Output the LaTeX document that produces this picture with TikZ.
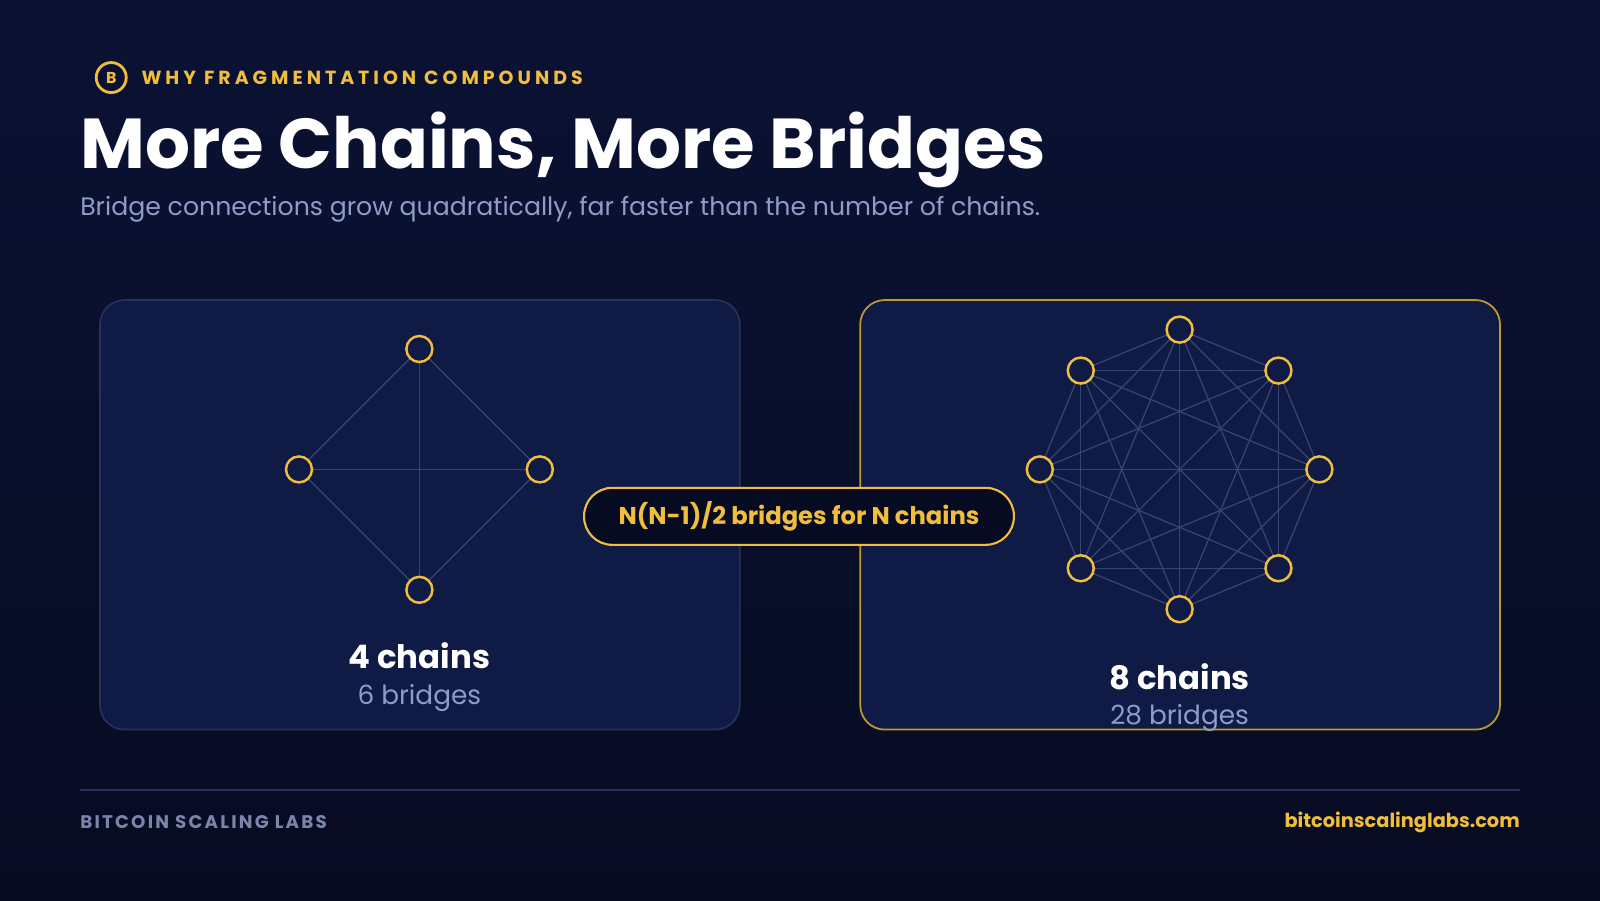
\documentclass[tikz,border=0pt]{standalone}
\usepackage{fontspec}
\setmainfont{Poppins}
\usetikzlibrary{positioning}
\definecolor{bgTop}{HTML}{0B1233}
\definecolor{bgBot}{HTML}{070B22}
\definecolor{panelFill}{HTML}{0F1A45}
\definecolor{panelEdge}{HTML}{27315C}
\definecolor{goldC}{HTML}{F0BE3C}
\definecolor{edgeC}{HTML}{3A4472}
\definecolor{softC}{HTML}{8F9CC8}
\begin{document}
\begin{tikzpicture}[x=0.010204cm,y=-0.010204cm,
    panel/.style={draw=panelEdge,fill=panelFill,rounded corners=7pt,line width=0.5pt},
    chain/.style={circle,draw=goldC,line width=0.7pt,fill=panelFill,minimum size=0.26cm,inner sep=0pt},
    bridge/.style={draw=edgeC,line width=0.35pt},
    bigLabel/.style={text=white,font=\fontsize{9.2}{11}\selectfont\bfseries},
    smallLabel/.style={text=softC,font=\fontsize{7.5}{9}\selectfont}]
  \shade[top color=bgTop,bottom color=bgBot] (0,0) rectangle (1568,882);
  \useasboundingbox (0,0) rectangle (1568,882);

  % header
  \node[circle,draw=goldC,line width=0.8pt,minimum size=0.3cm,inner sep=0pt,text=goldC,
        font=\fontsize{4.5}{5}\selectfont\bfseries] (logo) at (109,76) {B};
  \node[anchor=west,inner sep=0pt,text=goldC,font=\fontsize{5.4}{6}\selectfont\bfseries\addfontfeature{LetterSpace=21}]
        (kicker) at (138,76) {WHY FRAGMENTATION COMPOUNDS};
  \node[anchor=base west,inner sep=0pt,text=white,font=\fontsize{20.1}{24}\selectfont\bfseries]
        (title) at (78,165) {More Chains, More Bridges};
  \node[anchor=base west,inner sep=0pt,text=softC,font=\fontsize{7.17}{9}\selectfont]
        (subtitle) at (78,211) {Bridge connections grow quadratically, far faster than the number of chains.};

  % panels
  \draw[panel] (98,294) rectangle (725,715);
  \draw[panel,draw=goldC!80!black] (843,294) rectangle (1470,715);

  % four chains
  \foreach \i/\a in {1/90,2/180,3/270,4/0}
    \coordinate (p\i) at ({411+118*cos(\a)},{460-118*sin(\a)});
  \foreach \i in {1,...,3}{
    \pgfmathtruncatemacro\nxt{\i+1}
    \foreach \j in {\nxt,...,4}
      \draw[bridge] (p\i) -- (p\j);
  }
  \foreach \i in {1,...,4}
    \node[chain] (a\i) at (p\i) {};

  % eight chains
  \foreach \i in {1,...,8}
    \coordinate (q\i) at ({1156+137*cos(90-45*(\i-1))},{460-137*sin(90-45*(\i-1))});
  \foreach \i in {1,...,7}{
    \pgfmathtruncatemacro\nxt{\i+1}
    \foreach \j in {\nxt,...,8}
      \draw[bridge] (q\i) -- (q\j);
  }
  \foreach \i in {1,...,8}
    \node[chain] (b\i) at (q\i) {};

  % labels
  \node[bigLabel] (fourChains) at (411,643) {4 chains};
  \node[smallLabel] (sixBridges) at (411,684) {6 bridges};
  \node[bigLabel] (eightChains) at (1156,663) {8 chains};
  \node[smallLabel] (manyBridges) at (1156,704) {28 bridges};

  % formula pill
  \node[draw=goldC,fill=bgBot,rounded corners=8pt,line width=0.6pt,minimum width=4.3cm,minimum height=0.57cm,
        text=goldC,font=\fontsize{6.9}{8}\selectfont\bfseries] (formula) at (783,506) {N(N-1)/2 bridges for N chains};

  % footer
  \coordinate (ruleL) at (78,774);
  \coordinate (ruleR) at (1490,774);
  \draw[panelEdge,line width=0.6pt] (ruleL) -- (ruleR);
  \node[anchor=west,inner sep=0pt,text=softC!85!black,font=\fontsize{5.2}{6}\selectfont\bfseries\addfontfeature{LetterSpace=12}]
        (brand) at (78,806) {BITCOIN SCALING LABS};
  \node[anchor=east,inner sep=0pt,text=goldC,font=\fontsize{5.5}{6}\selectfont\bfseries]
        (site) at (1490,806) {bitcoinscalinglabs.com};
\end{tikzpicture}
\end{document}
